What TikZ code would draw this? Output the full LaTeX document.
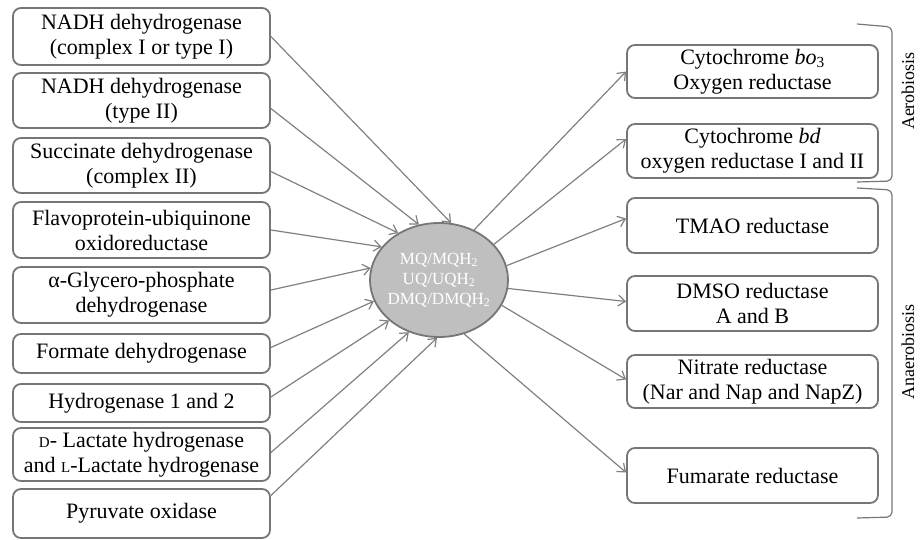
\documentclass[tikz,border=0pt]{standalone}
\usepackage{fontspec}
\setmainfont{Liberation Serif}
\usepackage{tikz}
\usetikzlibrary{arrows.meta,shapes,positioning}
\definecolor{rcgray}{RGB}{118,118,118}
\definecolor{rcarrow}{RGB}{128,128,128}
\definecolor{rcball}{RGB}{191,191,191}
\newcommand{\smallcap}[1]{{\fontsize{15}{15}\selectfont #1}}
\tikzstyle{enzyme} = [rectangle, rounded corners=8pt, draw=rcgray, line width=1.8pt, fill=white, align=center, inner sep=2pt, font=\fontsize{22}{25}\selectfont]
\tikzstyle{donor} = [enzyme, minimum width=257pt]
\tikzstyle{acceptor} = [enzyme, minimum width=251pt]
\tikzstyle{quinone} = [ellipse, draw=rcgray, line width=1.8pt, fill=rcball, text=white, align=center, inner xsep=-4pt, inner ysep=0pt, minimum width=138pt, minimum height=114pt, font=\fontsize{17}{20}\selectfont]
\tikzstyle{arrow} = [line width=1.2pt, -{Straight Barb[length=7pt,width=11pt]}, color=rcarrow]
\tikzstyle{bracket} = [line width=1.2pt, color=rcgray, rounded corners=5pt]
\tikzstyle{side} = [rotate=90, font=\fontsize{18}{22}\selectfont]

\begin{document}
\begin{tikzpicture}[x=1pt,y=-1pt]
\useasboundingbox (0,0) rectangle (920,540);
\node[quinone] (mq) at (439,280) {MQ/MQH\textsubscript{2}\\UQ/UQH\textsubscript{2}\\DMQ/DMQH\textsubscript{2}};

\node[donor, minimum height=57pt] (nuo) at (141.5,36.5) {NADH dehydrogenase\\(complex I or type I)};
\node[donor, minimum height=55pt] (ndh) at (141.5,100.5) {NADH dehydrogenase\\(type II)};
\node[donor, minimum height=55pt] (sdh) at (141.5,165.5) {Succinate dehydrogenase\\(complex II)};
\node[donor, minimum height=56pt] (etf) at (141.5,230) {Flavoprotein-ubiquinone\\oxidoreductase};
\node[donor, minimum height=56pt] (glp) at (141.5,295) {α-Glycero-phosphate\\dehydrogenase};
\node[donor, minimum height=39pt] (fdh) at (141.5,353.5) {Formate dehydrogenase};
\node[donor, minimum height=38pt] (hyd) at (141.5,403) {Hydrogenase 1 and 2};
\node[donor, minimum height=53pt] (ldh) at (141.5,454.5) {\smallcap{D}- Lactate hydrogenase\\and \smallcap{L}-Lactate hydrogenase};
\node[donor, minimum height=49pt] (pox) at (141.5,513.5) {Pyruvate oxidase};

\node[acceptor, minimum height=53pt] (cyo) at (752.5,71.5) {Cytochrome \textit{bo}\textsubscript{3}\\Oxygen reductase};
\node[acceptor, minimum height=54pt] (cyd) at (752.5,151) {Cytochrome \textit{bd}\\oxygen reductase I and II};
\node[acceptor, minimum height=55pt] (tor) at (752.5,225.5) {TMAO reductase};
\node[acceptor, minimum height=55pt] (dms) at (752.5,303.5) {DMSO reductase\\A and B};
\node[acceptor, minimum height=53pt] (nar) at (752.5,381.5) {Nitrate reductase\\(Nar and Nap and NapZ)};
\node[acceptor, minimum height=55pt] (frd) at (752.5,475.5) {Fumarate reductase};

\draw[arrow] (nuo.east) -- (mq.78);
\draw[arrow] ([yshift=-8pt]ndh.east) -- (mq.110);
\draw[arrow] ([yshift=-6pt]sdh.east) -- (mq.131);
\draw[arrow] (etf.east) -- (mq.150);
\draw[arrow] ([yshift=5pt]glp.east) -- (mq.170);
\draw[arrow] ([yshift=6pt]fdh.east) -- (mq.198);
\draw[arrow] ([yshift=6pt]hyd.east) -- (mq.219);
\draw[arrow] ([yshift=2pt]ldh.east) -- (mq.240);
\draw[arrow] ([yshift=18pt]pox.east) -- (mq.268);

\draw[arrow] (mq.55) -- (cyo.west);
\draw[arrow] (mq.33) -- ([yshift=12pt]cyd.west);
\draw[arrow] (mq.12) -- ([yshift=7pt]tor.west);
\draw[arrow] (mq.-7) -- ([yshift=2pt]dms.west);
\draw[arrow] (mq.-22) -- ([yshift=2pt]nar.west);
\draw[arrow] (mq.-65) -- ([yshift=3pt]frd.west);

\draw[bracket] (857,24) -- (892,27) -- (892,181) -- (857,182);
\draw[bracket] (857,188) -- (892,190) -- (892,517) -- (857,518);
\node[side] (aero) at (908,91) {Aerobiosis};
\node[side] (anaero) at (908,352) {Anaerobiosis};
\end{tikzpicture}
\end{document}
